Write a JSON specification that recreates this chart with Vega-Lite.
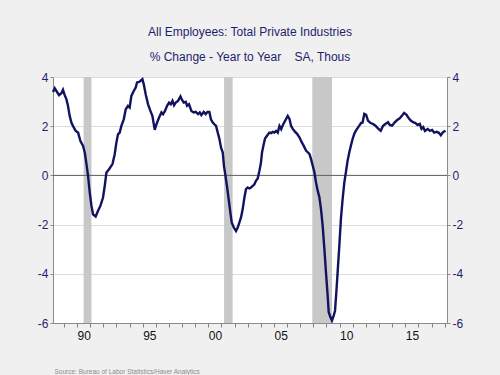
{
  "$schema": "https://vega.github.io/schema/vega-lite/v6.json",
  "width": 394,
  "height": 246,
  "autosize": {"type": "none"},
  "padding": {"left": 53, "top": 77, "right": 53, "bottom": 52},
  "background": "#F0F0F0",
  "config": {
    "view": {"stroke": null, "fill": "white"},
    "font": "Liberation Sans",
    "axisX": {
      "labelOverlap": false, "labelColor": "#111111", "labelFontSize": 12, "labelPadding": 3,
      "labelAlign": "left", "labelFlush": false,
      "labelFont": "Liberation Sans", "tickSize": 4, "tickColor": "#808080", "domainColor": "#8A8A8A", "grid": false,
      "titleFontSize": 6.5, "titleColor": "#8C8C8C", "titleFontWeight": "normal", "titleFont": "Liberation Sans",
      "titleAnchor": "start", "titleAlign": "left", "titleX": 1, "titleY": 50, "titleBaseline": "alphabetic"
    }
  },
  "title": {
    "text": ["All Employees: Total Private Industries", "% Change - Year to Year\u00a0\u00a0\u00a0\u00a0SA, Thous"],
    "fontSize": 12,
    "fontWeight": "normal",
    "color": "#1E1E6E",
    "lineHeight": 25,
    "offset": 7,
    "anchor": "middle",
    "font": "Liberation Sans"
  },
  "datasets": {
    "recessions": [
      {"start": 1990.5, "end": 1991.1},
      {"start": 2001.2, "end": 2001.85},
      {"start": 2007.92, "end": 2009.42}
    ],
    "series": [
      {"year": 1988.17, "value": 3.39}, {"year": 1988.3, "value": 3.54}, {"year": 1988.48, "value": 3.39},
      {"year": 1988.63, "value": 3.26}, {"year": 1988.81, "value": 3.34}, {"year": 1988.93, "value": 3.48},
      {"year": 1989.06, "value": 3.26}, {"year": 1989.19, "value": 3.1}, {"year": 1989.31, "value": 2.83},
      {"year": 1989.44, "value": 2.42}, {"year": 1989.57, "value": 2.15}, {"year": 1989.75, "value": 1.95},
      {"year": 1989.9, "value": 1.81}, {"year": 1990.08, "value": 1.74}, {"year": 1990.26, "value": 1.4},
      {"year": 1990.46, "value": 1.2}, {"year": 1990.59, "value": 0.93}, {"year": 1990.72, "value": 0.46},
      {"year": 1990.84, "value": -0.02}, {"year": 1990.97, "value": -0.7}, {"year": 1991.1, "value": -1.24},
      {"year": 1991.22, "value": -1.58}, {"year": 1991.42, "value": -1.67}, {"year": 1991.6, "value": -1.44},
      {"year": 1991.78, "value": -1.24}, {"year": 1991.98, "value": -0.9}, {"year": 1992.11, "value": -0.43},
      {"year": 1992.24, "value": 0.12}, {"year": 1992.44, "value": 0.25}, {"year": 1992.7, "value": 0.46},
      {"year": 1992.87, "value": 0.86}, {"year": 1993.0, "value": 1.34}, {"year": 1993.12, "value": 1.67},
      {"year": 1993.25, "value": 1.74}, {"year": 1993.38, "value": 2.01}, {"year": 1993.56, "value": 2.28},
      {"year": 1993.71, "value": 2.69}, {"year": 1993.88, "value": 2.83}, {"year": 1994.01, "value": 2.76},
      {"year": 1994.14, "value": 3.23}, {"year": 1994.32, "value": 3.43}, {"year": 1994.47, "value": 3.57},
      {"year": 1994.57, "value": 3.78}, {"year": 1994.72, "value": 3.8}, {"year": 1994.83, "value": 3.84},
      {"year": 1994.98, "value": 3.91}, {"year": 1995.08, "value": 3.71}, {"year": 1995.23, "value": 3.3},
      {"year": 1995.41, "value": 2.89}, {"year": 1995.59, "value": 2.62}, {"year": 1995.74, "value": 2.42},
      {"year": 1995.92, "value": 1.85}, {"year": 1996.05, "value": 2.08}, {"year": 1996.25, "value": 2.35},
      {"year": 1996.43, "value": 2.56}, {"year": 1996.55, "value": 2.49}, {"year": 1996.7, "value": 2.62},
      {"year": 1996.86, "value": 2.83}, {"year": 1997.01, "value": 2.96}, {"year": 1997.14, "value": 2.89},
      {"year": 1997.27, "value": 3.03}, {"year": 1997.39, "value": 2.85}, {"year": 1997.52, "value": 2.96},
      {"year": 1997.69, "value": 3.03}, {"year": 1997.88, "value": 3.21}, {"year": 1998.0, "value": 3.07},
      {"year": 1998.13, "value": 2.96}, {"year": 1998.28, "value": 2.99}, {"year": 1998.38, "value": 2.83},
      {"year": 1998.53, "value": 2.89}, {"year": 1998.71, "value": 2.62}, {"year": 1998.89, "value": 2.56},
      {"year": 1999.04, "value": 2.58}, {"year": 1999.22, "value": 2.49}, {"year": 1999.35, "value": 2.56},
      {"year": 1999.47, "value": 2.45}, {"year": 1999.65, "value": 2.58}, {"year": 1999.8, "value": 2.49},
      {"year": 1999.93, "value": 2.58}, {"year": 2000.08, "value": 2.58}, {"year": 2000.2, "value": 2.28},
      {"year": 2000.34, "value": 2.15}, {"year": 2000.46, "value": 2.08}, {"year": 2000.59, "value": 2.01},
      {"year": 2000.72, "value": 1.74}, {"year": 2000.85, "value": 1.47}, {"year": 2000.97, "value": 1.13},
      {"year": 2001.1, "value": 0.93}, {"year": 2001.2, "value": 0.35}, {"year": 2001.27, "value": 0.12},
      {"year": 2001.42, "value": -0.43}, {"year": 2001.55, "value": -0.97}, {"year": 2001.68, "value": -1.51},
      {"year": 2001.78, "value": -1.91}, {"year": 2001.94, "value": -2.12}, {"year": 2002.11, "value": -2.26},
      {"year": 2002.24, "value": -2.12}, {"year": 2002.37, "value": -1.91}, {"year": 2002.49, "value": -1.71},
      {"year": 2002.62, "value": -1.37}, {"year": 2002.75, "value": -0.9}, {"year": 2002.87, "value": -0.56},
      {"year": 2003.0, "value": -0.49}, {"year": 2003.13, "value": -0.53}, {"year": 2003.25, "value": -0.49},
      {"year": 2003.38, "value": -0.43}, {"year": 2003.51, "value": -0.36}, {"year": 2003.63, "value": -0.22},
      {"year": 2003.76, "value": -0.13}, {"year": 2003.89, "value": 0.18}, {"year": 2004.01, "value": 0.52},
      {"year": 2004.09, "value": 0.93}, {"year": 2004.22, "value": 1.27}, {"year": 2004.32, "value": 1.5},
      {"year": 2004.47, "value": 1.61}, {"year": 2004.65, "value": 1.74}, {"year": 2004.78, "value": 1.72},
      {"year": 2004.91, "value": 1.77}, {"year": 2005.03, "value": 1.74}, {"year": 2005.16, "value": 1.81},
      {"year": 2005.29, "value": 1.74}, {"year": 2005.42, "value": 2.01}, {"year": 2005.55, "value": 1.88},
      {"year": 2005.67, "value": 2.04}, {"year": 2005.85, "value": 2.22}, {"year": 2006.05, "value": 2.42},
      {"year": 2006.18, "value": 2.3}, {"year": 2006.3, "value": 2.02}, {"year": 2006.43, "value": 1.89},
      {"year": 2006.6, "value": 1.78}, {"year": 2006.76, "value": 1.69}, {"year": 2006.94, "value": 1.55},
      {"year": 2007.11, "value": 1.35}, {"year": 2007.26, "value": 1.21}, {"year": 2007.44, "value": 1.01},
      {"year": 2007.57, "value": 0.94}, {"year": 2007.7, "value": 0.87}, {"year": 2007.82, "value": 0.67},
      {"year": 2007.95, "value": 0.4}, {"year": 2008.08, "value": 0.13}, {"year": 2008.2, "value": -0.28},
      {"year": 2008.33, "value": -0.62}, {"year": 2008.46, "value": -0.89}, {"year": 2008.58, "value": -1.36},
      {"year": 2008.71, "value": -2.04}, {"year": 2008.84, "value": -2.99}, {"year": 2008.96, "value": -3.93},
      {"year": 2009.09, "value": -4.89}, {"year": 2009.17, "value": -5.56}, {"year": 2009.3, "value": -5.76},
      {"year": 2009.42, "value": -5.9}, {"year": 2009.55, "value": -5.7}, {"year": 2009.65, "value": -5.5},
      {"year": 2009.75, "value": -4.75}, {"year": 2009.85, "value": -3.93}, {"year": 2009.98, "value": -2.85},
      {"year": 2010.1, "value": -1.77}, {"year": 2010.23, "value": -0.96}, {"year": 2010.36, "value": -0.28},
      {"year": 2010.48, "value": 0.13}, {"year": 2010.61, "value": 0.6}, {"year": 2010.74, "value": 0.94},
      {"year": 2010.86, "value": 1.21}, {"year": 2010.99, "value": 1.48}, {"year": 2011.12, "value": 1.69},
      {"year": 2011.24, "value": 1.82}, {"year": 2011.37, "value": 1.92}, {"year": 2011.5, "value": 2.02},
      {"year": 2011.63, "value": 2.13}, {"year": 2011.75, "value": 2.15}, {"year": 2011.88, "value": 2.5},
      {"year": 2012.02, "value": 2.46}, {"year": 2012.16, "value": 2.23}, {"year": 2012.36, "value": 2.13},
      {"year": 2012.55, "value": 2.09}, {"year": 2012.73, "value": 2.02}, {"year": 2012.92, "value": 1.91},
      {"year": 2013.13, "value": 1.81}, {"year": 2013.31, "value": 2.02}, {"year": 2013.49, "value": 2.09},
      {"year": 2013.69, "value": 2.16}, {"year": 2013.82, "value": 2.05}, {"year": 2014.0, "value": 2.02},
      {"year": 2014.2, "value": 2.16}, {"year": 2014.41, "value": 2.26}, {"year": 2014.58, "value": 2.32},
      {"year": 2014.76, "value": 2.43}, {"year": 2014.91, "value": 2.54}, {"year": 2015.1, "value": 2.46},
      {"year": 2015.27, "value": 2.32}, {"year": 2015.42, "value": 2.23}, {"year": 2015.6, "value": 2.16},
      {"year": 2015.78, "value": 2.13}, {"year": 2015.94, "value": 2.05}, {"year": 2016.11, "value": 2.09},
      {"year": 2016.24, "value": 1.89}, {"year": 2016.37, "value": 1.96}, {"year": 2016.5, "value": 1.81},
      {"year": 2016.71, "value": 1.89}, {"year": 2016.88, "value": 1.81}, {"year": 2017.05, "value": 1.85},
      {"year": 2017.2, "value": 1.74}, {"year": 2017.39, "value": 1.77}, {"year": 2017.56, "value": 1.73},
      {"year": 2017.71, "value": 1.63}, {"year": 2017.89, "value": 1.77}, {"year": 2018.07, "value": 1.81}
    ]
  },
  "layer": [
    {
      "data": {"name": "recessions"},
      "mark": {"type": "rect", "color": "#C8C8C8"},
      "encoding": {
        "x": {"field": "start", "type": "quantitative",
              "scale": {"domain": [1988.17, 2018.18], "nice": false, "zero": false},
              "axis": {"orient": "bottom",
                       "values": [1989, 1990, 1991, 1992, 1993, 1994, 1995, 1996, 1997, 1998, 1999, 2000, 2001, 2002, 2003, 2004, 2005, 2006, 2007, 2008, 2009, 2010, 2011, 2012, 2013, 2014, 2015, 2016, 2017, 2018],
                       "labelExpr": "datum.value % 5 == 0 ? slice(toString(datum.value), 2) : ''",
                       "labelOverlap": false, "labelAlign": "left",
                       "title": "Source:  Bureau of Labor Statistics/Haver Analytics"}},
        "x2": {"field": "end"}
      }
    },
    {
      "data": {"values": [{"v": 0}]},
      "mark": {"type": "rule", "color": "#606060", "strokeWidth": 1},
      "encoding": {
        "y": {"field": "v", "type": "quantitative",
              "scale": {"domain": [-6, 4], "nice": false, "zero": false},
              "axis": {"orient": "left", "values": [-6, -4, -2, 0, 2, 4], "grid": true, "gridColor": "#DCDCDC",
                       "labelExpr": "toString(datum.value)",
                       "domainColor": "#8A8A8A", "tickColor": "#8A8A8A", "tickSize": 3, "labelColor": "#1E1E6E",
                       "labelFontSize": 12, "labelPadding": 2, "title": null, "labelFont": "Liberation Sans"}}
      }
    },
    {
      "data": {"name": "series"},
      "mark": {"type": "line", "color": "#12125E", "strokeWidth": 2.4},
      "encoding": {
        "x": {"field": "year", "type": "quantitative",
              "axis": {"orient": "bottom",
                       "values": [1989, 1990, 1991, 1992, 1993, 1994, 1995, 1996, 1997, 1998, 1999, 2000, 2001, 2002, 2003, 2004, 2005, 2006, 2007, 2008, 2009, 2010, 2011, 2012, 2013, 2014, 2015, 2016, 2017, 2018],
                       "labelExpr": "datum.value % 5 == 0 ? slice(toString(datum.value), 2) : ''",
                       "labelOverlap": false, "labelAlign": "left",
                       "title": "Source:  Bureau of Labor Statistics/Haver Analytics"}},
        "y": {"field": "value", "type": "quantitative",
              "scale": {"domain": [-6, 4], "nice": false, "zero": false},
              "axis": {"orient": "right", "values": [-6, -4, -2, 0, 2, 4], "grid": false,
                       "labelExpr": "toString(datum.value)",
                       "domainColor": "#8A8A8A", "tickColor": "#8A8A8A", "tickSize": 3, "labelColor": "#1E1E6E",
                       "labelFontSize": 12, "labelPadding": 2, "title": null, "labelFont": "Liberation Sans"}}
      }
    }
  ],
  "resolve": {"axis": {"y": "independent"}}
}
